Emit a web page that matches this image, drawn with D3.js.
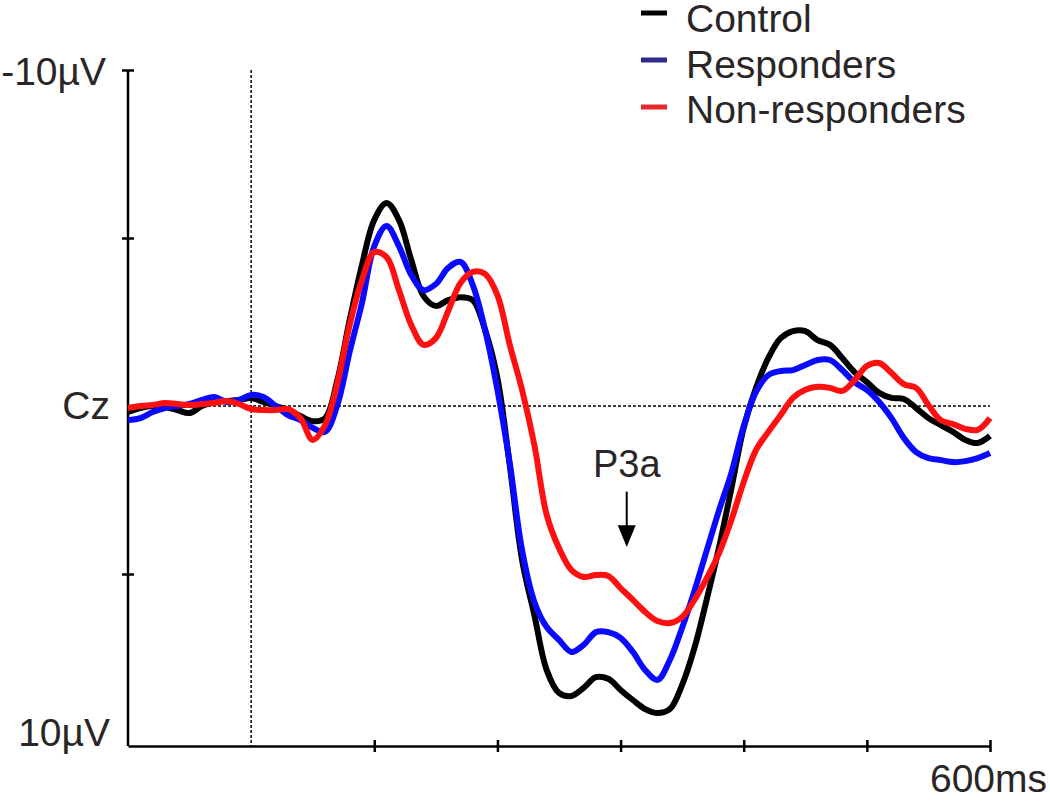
<!DOCTYPE html>
<head>
    <script src="https://d3js.org/d3.v7.js"></script>
    <style>
        body{
            margin: 0;
            background: white;
        }
        text{
            font-family: "Liberation Sans", Arial, sans-serif;
            fill: #2a2627;
        }
    </style>
</head>
<html>
    <body>
        <div class = "graph">
            <script>
                // time axis, ms (every 10ms from -100 to 600)
                const times = d3.range(-100, 601, 10)

                // amplitudes in microvolts, negative is drawn upwards
                const control = [0.18, 0.06, 0, 0.03, 0.12, 0.21, 0, -0.12, -0.15, -0.18,
                    -0.24, -0.12, 0, 0.12, 0.3, 0.45, 0.36, -0.77, -2.56, -4.2,
                    -5.54, -6.04, -5.54, -4.35, -3.27, -2.98, -3.15, -3.24, -3.15, -2.26,
                    -0.83, 1.76, 4.58, 6.22, 7.86, 8.54, 8.63, 8.39, 8.07, 8.12,
                    8.45, 8.75, 9.02, 9.14, 9.02, 8.3, 7.2, 5.75, 4.2, 2.45,
                    0.65, -0.54, -1.43, -2.02, -2.23, -2.23, -1.96, -1.82, -1.43, -1.01,
                    -0.71, -0.39, -0.24, -0.21, 0.06, 0.36, 0.57, 0.77, 1.01, 1.1,
                    0.89]
                const responders = [0.42, 0.36, 0.18, 0.06, 0, -0.06, -0.18, -0.27, -0.12, -0.18,
                    -0.33, -0.27, 0, 0.27, 0.42, 0.65, 0.77, -0.03, -1.61, -3.07,
                    -4.76, -5.36, -4.76, -3.9, -3.45, -3.63, -4.11, -4.29, -3.6, -2.26,
                    -0.48, 1.7, 4.29, 5.83, 6.58, 6.96, 7.32, 7.11, 6.73, 6.73,
                    6.9, 7.32, 7.86, 8.15, 7.56, 6.6, 5.5, 4.3, 3.1, 1.99,
                    0.6, -0.42, -0.92, -1.04, -1.07, -1.22, -1.37, -1.37, -1.07, -0.71,
                    -0.48, -0.12, 0.36, 0.95, 1.37, 1.55, 1.61, 1.67, 1.64, 1.55,
                    1.4]
                const nonResponders = [0.06, 0, -0.03, -0.09, -0.06, -0.03, -0.06, -0.09, -0.15, -0.06,
                    0.09, 0.12, 0.12, 0.09, 0.36, 1.01, 0.57, -0.68, -2.41, -3.75,
                    -4.58, -4.43, -3.45, -2.41, -1.82, -2.02, -2.83, -3.66, -3.99, -3.93,
                    -3.3, -1.82, -0.48, 1.16, 3.24, 4.23, 4.88, 5.09, 5.03, 5.06,
                    5.42, 5.77, 6.13, 6.4, 6.46, 6.28, 5.77, 5.12, 4.38, 3.39,
                    2.26, 1.31, 0.77, 0.27, -0.24, -0.48, -0.57, -0.54, -0.45, -0.77,
                    -1.19, -1.28, -0.98, -0.65, -0.54, -0.03, 0.42, 0.54, 0.68, 0.71,
                    0.36]

                const seriesNames = ['Control', 'Responders', 'Non-responders']
                const lineColours = ['#000000', '#0a0aff', '#ff1010']
                const legendColours = ['#000000', '#2e2a8c', '#e32b2b']
                const xTicks = [100, 200, 300, 400, 500, 600]
                const yTicks = [-10, -5, 5]

                const w = 1050
                const h = 802
                const padLeft = 128
                const padRight = 990
                const padTop = 70
                const padBottom = 742
                const axisY = 746
                const fontSize = '39px'

                const xScale = d3.scaleLinear()
                                .domain([-100, 600])
                                .range([padLeft, padRight])
                const yScale = d3.scaleLinear()
                                .domain([-10, 10])
                                .range([padTop, padBottom])

                const svg = d3.select('.graph')
                    .append('svg')
                    .attr('width', w)
                    .attr('height', h)

                // dotted reference lines
                svg.append('line')
                    .attr('x1', xScale(0)).attr('x2', xScale(0))
                    .attr('y1', yScale(-10)).attr('y2', axisY)
                    .attr('stroke', '#000').attr('stroke-width', 1.5)
                    .attr('stroke-dasharray', '3,2')
                svg.append('line')
                    .attr('x1', padLeft).attr('x2', padRight)
                    .attr('y1', yScale(0)).attr('y2', yScale(0))
                    .attr('stroke', '#000').attr('stroke-width', 1.5)
                    .attr('stroke-dasharray', '3,2')

                // axes
                const xAxis = d3.axisBottom(xScale)
                                .tickValues(xTicks)
                                .tickSizeOuter(0)
                                .tickFormat('')
                const gx = svg.append('g')
                    .attr('transform', 'translate(0,' + axisY + ')')
                    .call(xAxis)
                gx.selectAll('line').attr('y1', -6).attr('y2', 6)
                gx.selectAll('line, path').attr('stroke', '#000').attr('stroke-width', 2.5)

                const yAxis = d3.axisLeft(yScale)
                                .tickValues(yTicks)
                                .tickSizeOuter(0)
                                .tickFormat('')
                const gy = svg.append('g')
                    .attr('transform', 'translate(' + padLeft + ',0)')
                    .call(yAxis)
                gy.select('.domain').remove()
                gy.selectAll('line').attr('x1', -6).attr('x2', 6)
                gy.append('line')
                    .attr('y1', yScale(-10)).attr('y2', axisY)
                gy.selectAll('line').attr('stroke', '#000').attr('stroke-width', 2.5)

                // axis labels
                const labels = [
                    {t: '-10µV', x: padLeft - 22, y: yScale(-10) + 15},
                    {t: 'Cz', x: padLeft - 18, y: yScale(0) + 13},
                    {t: '10µV', x: padLeft - 18, y: axisY},
                    {t: '600ms', x: w - 3, y: axisY + 46}
                ]
                svg.selectAll('.lab')
                    .data(labels)
                    .enter()
                    .append('text')
                    .attr('x', d => d.x)
                    .attr('y', d => d.y)
                    .style('text-anchor', 'end')
                    .style('font-size', fontSize)
                    .text(d => d.t)

                // curves
                const line = d3.line()
                                .x((d, i) => xScale(times[i]))
                                .y(d => yScale(d))
                                .curve(d3.curveCatmullRom.alpha(0.5))

                const allSeries = [control, responders, nonResponders]
                svg.selectAll('.wave')
                    .data(allSeries)
                    .enter()
                    .append('path')
                    .attr('class', 'wave')
                    .attr('d', line)
                    .attr('fill', 'none')
                    .attr('stroke', (d, i) => lineColours[i])
                    .attr('stroke-width', 6)
                    .attr('stroke-linejoin', 'round')

                // P3a annotation
                const p3aTime = 305
                svg.append('text')
                    .attr('x', xScale(p3aTime))
                    .attr('y', yScale(2.1))
                    .style('text-anchor', 'middle')
                    .style('font-size', '38px')
                    .text('P3a')
                svg.append('line')
                    .attr('x1', xScale(p3aTime)).attr('x2', xScale(p3aTime))
                    .attr('y1', yScale(2.55)).attr('y2', yScale(3.7))
                    .attr('stroke', '#000').attr('stroke-width', 2)
                svg.append('path')
                    .attr('d', 'M' + (xScale(p3aTime) - 9) + ',' + yScale(3.55) +
                               'L' + (xScale(p3aTime) + 9) + ',' + yScale(3.55) +
                               'L' + xScale(p3aTime) + ',' + yScale(4.2) + 'Z')
                    .attr('fill', '#000')

                // legend
                const legend = svg.selectAll('.legend')
                    .data(seriesNames)
                    .enter()
                    .append('g')
                legend.append('line')
                    .attr('x1', 641).attr('x2', 667)
                    .attr('y1', (d, i) => 13 + i * 47)
                    .attr('y2', (d, i) => 13 + i * 47)
                    .attr('stroke', (d, i) => legendColours[i])
                    .attr('stroke-width', 5)
                legend.append('text')
                    .attr('x', 686)
                    .attr('y', (d, i) => 32 + i * 45.5)
                    .style('font-size', fontSize)
                    .text(d => d)
            </script>
        </div>
    </body>
</html>
